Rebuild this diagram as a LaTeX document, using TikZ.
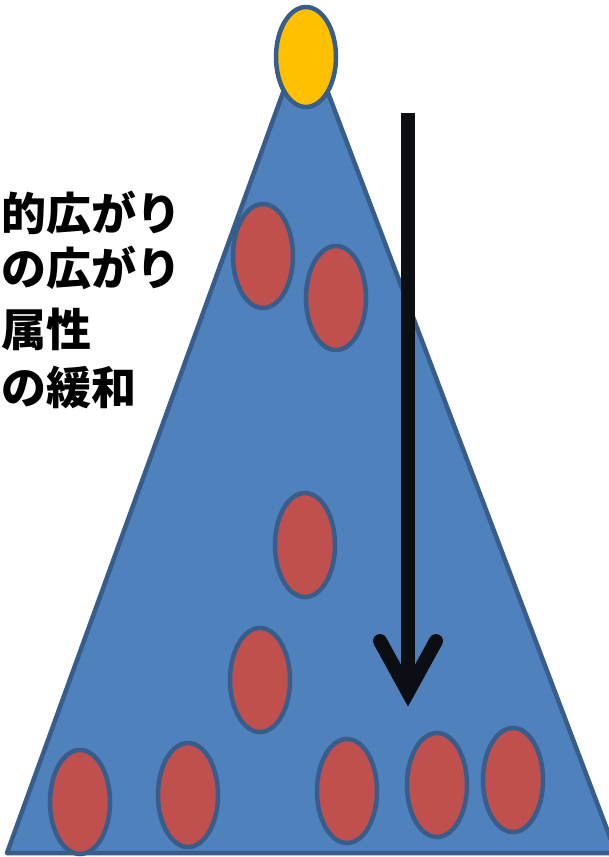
\documentclass[tikz,border=0pt]{standalone}
\usepackage{fontspec}
\newfontfamily\cjk{Noto Sans CJK JP}
\usetikzlibrary{shapes.geometric}
\definecolor{triblue}{HTML}{4F81BD}
\definecolor{edgeblue}{HTML}{385D8A}
\definecolor{redfill}{HTML}{C0504D}
\definecolor{yel}{HTML}{FFC000}
\definecolor{arrowblack}{HTML}{0B0F14}
\tikzset{
  dot/.style={ellipse, draw=edgeblue, line width=4.5pt, fill=redfill, minimum width=60pt, minimum height=104pt, inner sep=0pt},
  topdot/.style={dot, fill=yel, minimum width=60pt, minimum height=100pt},
  lbl/.style={anchor=west, inner sep=0pt, font=\cjk\bfseries\fontsize{45pt}{45pt}\selectfont, text=black},
  arr/.style={draw=arrowblack, line width=14pt}
}
\begin{document}
\begin{tikzpicture}[x=1pt,y=-1pt]
\useasboundingbox (0,0) rectangle (609,857);
\clip (0,0) rectangle (609,857);
\fill[white] (0,0) rectangle (609,857);
% pyramid
\draw[fill=triblue, draw=edgeblue, line width=4.5pt, line join=round] (7,853) -- (305,32) -- (616,853) -- cycle;
% text
\node[lbl] (t1) at (1,213) {的広がり};
\node[lbl] (t2) at (1,268) {の広がり};
\node[lbl] (t3) at (1,329) {属性};
\node[lbl] (t4) at (1,387) {の緩和};
% top
\node[topdot] (top) at (306,57) {};
% red dots
\node[dot] (d1) at (263,256) {};
\node[dot] (d2) at (336,298) {};
\node[dot] (d3) at (305,545) {};
\node[dot] (d4) at (260,680) {};
\node[dot] (d5) at (80,802) {};
\node[dot] (d6) at (188,795) {};
\node[dot] (d7) at (347,791) {};
\node[dot] (d8) at (437,785) {};
\node[dot] (d9) at (513,780) {};
% arrow
\coordinate (as) at (408,113);
\coordinate (ae) at (408,690);
\coordinate (al) at (380,641);
\coordinate (ar) at (436,641);
\coordinate (atip) at (408,692);
\draw[arr, line cap=butt] (as) -- (ae);
\draw[arr, line cap=round, line join=miter] (al) -- (atip) -- (ar);
\end{tikzpicture}
\end{document}
